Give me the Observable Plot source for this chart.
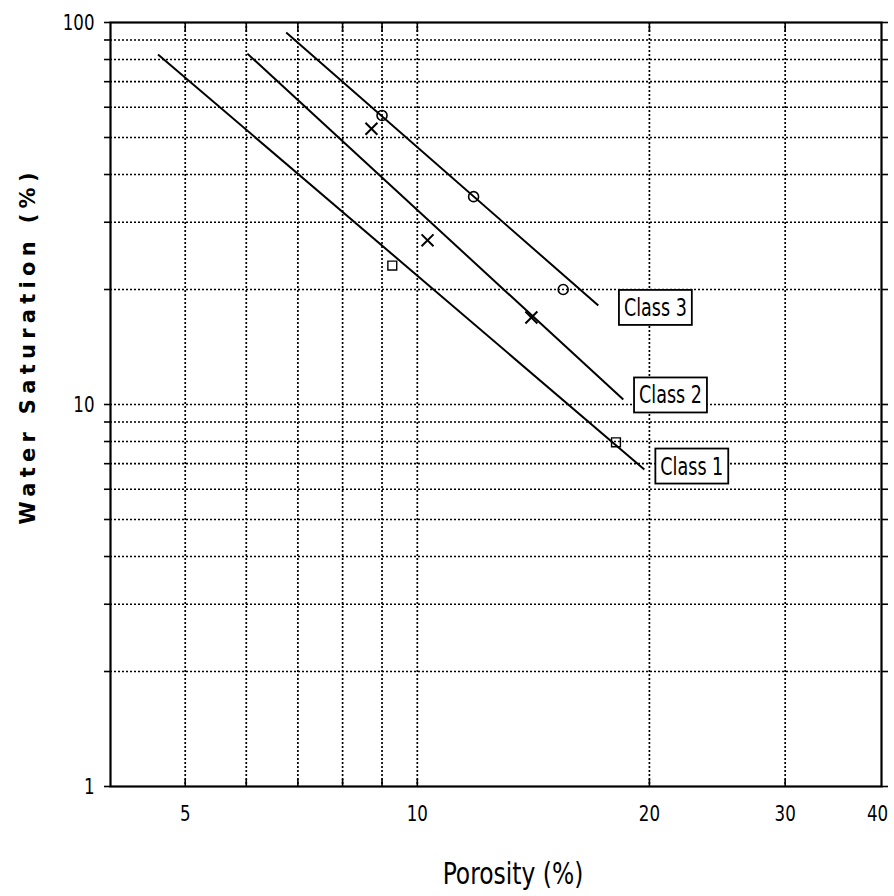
<!DOCTYPE html>
<html>
<head>
<meta charset="utf-8">
<script src="https://cdn.jsdelivr.net/npm/d3@7"></script>
<script src="https://cdn.jsdelivr.net/npm/@observablehq/plot@0.6"></script>
<style>
  html, body { margin: 0; padding: 0; background: white; }
</style>
</head>
<body>
<div id="chart"></div>
<script>
// ---- data ----
const classNames = ["Class 1", "Class 2", "Class 3"];
const lineStartX = [4.61, 6.02, 6.76];
const lineStartY = [82.5, 82.9, 94.2];
const lineEndX   = [19.7, 18.5, 17.17];
const lineEndY   = [6.76, 10.3, 18.16];

const class1X = [9.28, 18.1];
const class1Y = [23.1, 7.96];
const class2X = [8.72, 10.31, 14.06];
const class2Y = [52.7, 26.9, 16.9];
const class3X = [9.00, 11.83, 15.46];
const class3Y = [57.1, 35.0, 20.0];

const labelX = [22.7, 21.3, 20.36];
const labelY = [6.88, 10.56, 17.9];

const xGrid = [5, 6, 7, 8, 9, 10, 20, 30];
const xTickLabels = [5, 10, 20, 30, 40];
const yGrid = [2, 3, 4, 5, 6, 7, 8, 9, 10, 20, 30, 40, 50, 60, 70, 80, 90];
const yTickLabels = [1, 10, 100];
const xTitle = "Porosity (%)";
const yTitle = "Water Saturation (%)";

// ---- build tables ----
const lines = classNames.map((c, i) => ({c, x1: lineStartX[i], y1: lineStartY[i], x2: lineEndX[i], y2: lineEndY[i]}));
const pts1 = class1X.map((x, i) => ({x, y: class1Y[i]}));
const pts2 = class2X.map((x, i) => ({x, y: class2Y[i]}));
const pts3 = class3X.map((x, i) => ({x, y: class3Y[i]}));
const labels = classNames.map((c, i) => ({c, x: labelX[i], y: labelY[i]}));
const yAllTicks = [1, ...yGrid, 100];

const narrow = "'DejaVu Sans Condensed', 'DejaVu Sans', sans-serif";

const plot = Plot.plot({
  width: 894,
  height: 896,
  marginLeft: 110,
  marginRight: 13,
  marginTop: 22,
  marginBottom: 110,
  x: {type: "log", domain: [4, 40]},
  y: {type: "log", domain: [1, 100]},
  style: {fontFamily: narrow, fontSize: "22px", color: "black", background: "white"},
  marks: [
    Plot.ruleY(yGrid, {stroke: "black", strokeWidth: 1.7, strokeDasharray: "2,2"}),
    Plot.ruleX(xGrid, {stroke: "black", strokeWidth: 1.7, strokeDasharray: "2,2"}),
    Plot.axisY({ticks: yAllTicks, tickFormat: d => yTickLabels.includes(d) ? String(d) : "", tickSize: 6, tickPadding: 10, label: null, fontSize: 22, strokeWidth: 1.6}),
    Plot.axisY({anchor: "right", ticks: yAllTicks, tickFormat: () => "", tickSize: 6, label: null, strokeWidth: 1.6}),
    Plot.axisX({ticks: xTickLabels, tickFormat: d => String(d), tickSize: 0, tickPadding: 19, label: null, fontSize: 22}),
    Plot.axisX({ticks: xGrid, tickFormat: () => "", tickSize: -7, label: null, strokeWidth: 1.6}),
    Plot.axisX({anchor: "top", ticks: xGrid, tickFormat: () => "", tickSize: -9, label: null, strokeWidth: 1.6}),
    Plot.frame({stroke: "black", strokeWidth: 2.2}),
    Plot.link(lines, {x1: "x1", y1: "y1", x2: "x2", y2: "y2", stroke: "black", strokeWidth: 2}),
    Plot.dot(pts1, {x: "x", y: "y", symbol: "square", r: 5, stroke: "black", strokeWidth: 1.4, fill: "none"}),
    Plot.dot(pts2, {x: "x", y: "y", symbol: "times", r: 5.5, stroke: "black", strokeWidth: 2, fill: "none"}),
    Plot.dot(pts3, {x: "x", y: "y", symbol: "circle", r: 5, stroke: "black", strokeWidth: 1.6, fill: "none"}),
    Plot.text(labels, {x: "x", y: "y", text: "c", fontSize: 25, fill: "black"}),
    Plot.text([yTitle], {frameAnchor: "left", textAnchor: "middle", lineAnchor: "middle", text: d => d, rotate: -90, dx: -82, dy: -56, fontSize: 21, fontWeight: "bold", fontFamily: "'DejaVu Sans', sans-serif", fill: "black"}),
    Plot.text([xTitle], {frameAnchor: "bottom", textAnchor: "middle", text: d => d, dx: 17, dy: 97, fontSize: 31, fill: "black"})
  ]
});

document.getElementById("chart").appendChild(plot);

const allText = d3.select(plot).selectAll("text");

// squeeze text horizontally to mimic the narrow typeface of the reference
function squeeze(sel, factor) {
  sel.each(function() {
    const w = this.getComputedTextLength();
    if (w > 0) {
      this.setAttribute("textLength", (w * factor).toFixed(1));
      this.setAttribute("lengthAdjust", "spacingAndGlyphs");
    }
  });
}
squeeze(allText.filter(function() { return /^\d+$/.test(this.textContent); }), 0.84);
squeeze(allText.filter(function() { return this.textContent === xTitle; }), 0.84);
squeeze(allText.filter(function() { return classNames.includes(this.textContent); }), 0.78);

// the last x tick label sits slightly left of its tick in the reference
allText.filter(function() { return this.textContent === String(xTickLabels[xTickLabels.length - 1]); })
  .attr("dx", -4);

// y title: widely spaced letters
allText.filter(function() { return this.textContent === yTitle; })
  .attr("textLength", 352).attr("lengthAdjust", "spacing");

// boxes around class labels
allText.filter(function() { return classNames.includes(this.textContent); })
  .each(function() {
    const bb = this.getBBox();
    const padX = 5, padY = 3;
    const rect = document.createElementNS("http://www.w3.org/2000/svg", "rect");
    rect.setAttribute("x", bb.x - padX);
    rect.setAttribute("y", bb.y - padY);
    rect.setAttribute("width", bb.width + 2 * padX);
    rect.setAttribute("height", bb.height + 2 * padY);
    rect.setAttribute("fill", "white");
    rect.setAttribute("stroke", "black");
    rect.setAttribute("stroke-width", "1.8");
    const t = this.getAttribute("transform");
    if (t) rect.setAttribute("transform", t);
    this.parentNode.insertBefore(rect, this);
  });
</script>
</body>
</html>
